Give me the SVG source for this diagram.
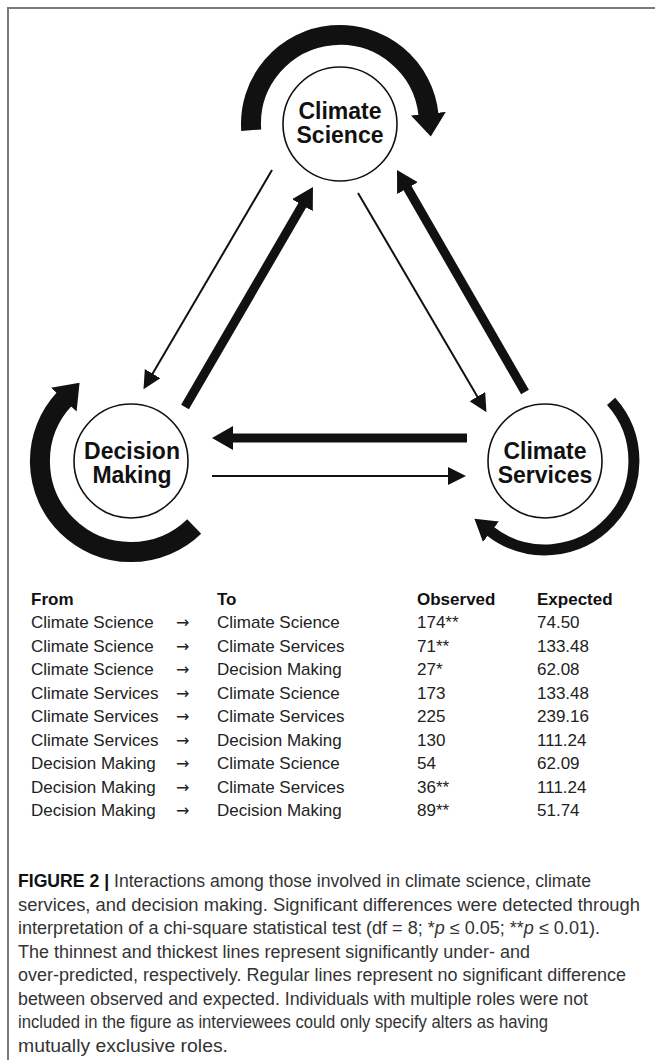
<svg xmlns="http://www.w3.org/2000/svg" width="655" height="1060" viewBox="0 0 655 1060">
<style>
.node circle{fill:#fff;stroke:#111;stroke-width:1.6}
.label{font-family:"Liberation Sans",Arial,sans-serif;font-weight:bold;font-size:23px;fill:#111;text-anchor:middle}
.thin{stroke:#111;stroke-width:2;fill:none}
.thick{stroke:#111;stroke-width:9;fill:none}
.loop{stroke:#111;fill:none}
.tbl{font-family:"Liberation Sans",Arial,sans-serif;font-size:17px;fill:#222}
.hdr{font-weight:bold;fill:#111}
.arr{font-family:"DejaVu Sans",sans-serif;font-size:16px}
.cap{font-family:"Liberation Sans",Arial,sans-serif;font-size:17.5px;fill:#333}
.frame{stroke:#7a7a7a;stroke-width:2;fill:none}
</style>
<defs>
<marker id="headThin" markerUnits="userSpaceOnUse" markerWidth="22" markerHeight="22" refX="1" refY="9" orient="auto"><path d="M0,0 L18,9 L0,18 z" fill="#111"/></marker>
<marker id="headThick" markerUnits="userSpaceOnUse" markerWidth="26" markerHeight="28" refX="1" refY="12" orient="auto"><path d="M0,0 L21,12 L0,24 z" fill="#111"/></marker>
<marker id="headLoopBig" markerUnits="userSpaceOnUse" markerWidth="28" markerHeight="40" refX="1" refY="17.5" orient="auto"><path d="M0,0 L23,17.5 L0,35 z" fill="#111"/></marker>
<marker id="headLoopSmall" markerUnits="userSpaceOnUse" markerWidth="26" markerHeight="30" refX="1" refY="13" orient="auto"><path d="M0,0 L21,13 L0,26 z" fill="#111"/></marker>
</defs>
<rect width="655" height="1060" fill="#fff"/>
<path class="frame" d="M8,1060 V8 H655"/>

<g id="connectors">
  <path class="loop" stroke-width="20" d="M251.2,130.2 A89,89 0 0 1 428.5,114.7" marker-end="url(#headLoopBig)"/>
  <path class="loop" stroke-width="20" d="M194.2,526.5 A91,91 0 0 1 64.5,398.9" marker-end="url(#headLoopBig)"/>
  <path class="loop" stroke-width="11" d="M611.1,401.4 A89,89 0 0 1 490.2,531.1" marker-end="url(#headLoopSmall)"/>
  <line class="thin" x1="272" y1="170" x2="152.1" y2="374.5" marker-end="url(#headThin)"/>
  <line class="thick" x1="185" y1="407" x2="302.9" y2="204.3" marker-end="url(#headThick)"/>
  <line class="thin" x1="358" y1="193" x2="477.9" y2="397.5" marker-end="url(#headThin)"/>
  <line class="thick" x1="525" y1="392" x2="407" y2="187.3" marker-end="url(#headThick)"/>
  <line class="thick" x1="467" y1="438" x2="232" y2="438" marker-end="url(#headThick)"/>
  <line class="thin" x1="212" y1="476" x2="449" y2="476" marker-end="url(#headThin)"/>
</g>

<g id="node-climate-science" class="node">
  <circle cx="340" cy="124" r="57"/>
  <text class="label" x="340" y="119">Climate</text>
  <text class="label" x="340" y="143">Science</text>
</g>
<g id="node-decision-making" class="node">
  <circle cx="131" cy="461" r="57"/>
  <text class="label" x="132" y="459">Decision</text>
  <text class="label" x="132" y="483">Making</text>
</g>
<g id="node-climate-services" class="node">
  <circle cx="545" cy="461" r="57"/>
  <text class="label" x="545" y="459">Climate</text>
  <text class="label" x="545" y="483">Services</text>
</g>

<g id="table" class="tbl">
  <text class="hdr" x="31" y="605">From</text>
  <text class="hdr" x="217" y="605">To</text>
  <text class="hdr" x="417" y="605">Observed</text>
  <text class="hdr" x="537" y="605">Expected</text>

  <text x="31" y="628">Climate Science</text><text class="arr" x="176" y="628">→</text><text x="217" y="628">Climate Science</text><text x="417" y="628">174**</text><text x="537" y="628">74.50</text>
  <text x="31" y="651.5">Climate Science</text><text class="arr" x="176" y="651.5">→</text><text x="217" y="651.5">Climate Services</text><text x="417" y="651.5">71**</text><text x="537" y="651.5">133.48</text>
  <text x="31" y="675">Climate Science</text><text class="arr" x="176" y="675">→</text><text x="217" y="675">Decision Making</text><text x="417" y="675">27*</text><text x="537" y="675">62.08</text>
  <text x="31" y="698.5">Climate Services</text><text class="arr" x="176" y="698.5">→</text><text x="217" y="698.5">Climate Science</text><text x="417" y="698.5">173</text><text x="537" y="698.5">133.48</text>
  <text x="31" y="722">Climate Services</text><text class="arr" x="176" y="722">→</text><text x="217" y="722">Climate Services</text><text x="417" y="722">225</text><text x="537" y="722">239.16</text>
  <text x="31" y="745.5">Climate Services</text><text class="arr" x="176" y="745.5">→</text><text x="217" y="745.5">Decision Making</text><text x="417" y="745.5">130</text><text x="537" y="745.5">111.24</text>
  <text x="31" y="769">Decision Making</text><text class="arr" x="176" y="769">→</text><text x="217" y="769">Climate Science</text><text x="417" y="769">54</text><text x="537" y="769">62.09</text>
  <text x="31" y="792.5">Decision Making</text><text class="arr" x="176" y="792.5">→</text><text x="217" y="792.5">Climate Services</text><text x="417" y="792.5">36**</text><text x="537" y="792.5">111.24</text>
  <text x="31" y="816">Decision Making</text><text class="arr" x="176" y="816">→</text><text x="217" y="816">Decision Making</text><text x="417" y="816">89**</text><text x="537" y="816">51.74</text>
</g>

<g id="caption" class="cap">
  <text x="18" y="887" textLength="573" lengthAdjust="spacingAndGlyphs"><tspan font-weight="bold" fill="#111">FIGURE 2 |</tspan> Interactions among those involved in climate science, climate</text>
  <text x="18" y="910.5" textLength="622" lengthAdjust="spacingAndGlyphs">services, and decision making. Significant differences were detected through</text>
  <text x="18" y="934" textLength="582" lengthAdjust="spacingAndGlyphs">interpretation of a chi-square statistical test (df = 8; *<tspan font-style="italic">p</tspan> ≤ 0.05; **<tspan font-style="italic">p</tspan> ≤ 0.01).</text>
  <text x="18" y="957.5" textLength="512" lengthAdjust="spacingAndGlyphs">The thinnest and thickest lines represent significantly under- and</text>
  <text x="18" y="981" textLength="608" lengthAdjust="spacingAndGlyphs">over-predicted, respectively. Regular lines represent no significant difference</text>
  <text x="18" y="1004.5" textLength="570" lengthAdjust="spacingAndGlyphs">between observed and expected. Individuals with multiple roles were not</text>
  <text x="18" y="1028" textLength="530" lengthAdjust="spacingAndGlyphs">included in the figure as interviewees could only specify alters as having</text>
  <text x="18" y="1051.5" textLength="210" lengthAdjust="spacingAndGlyphs">mutually exclusive roles.</text>
</g>
</svg>
